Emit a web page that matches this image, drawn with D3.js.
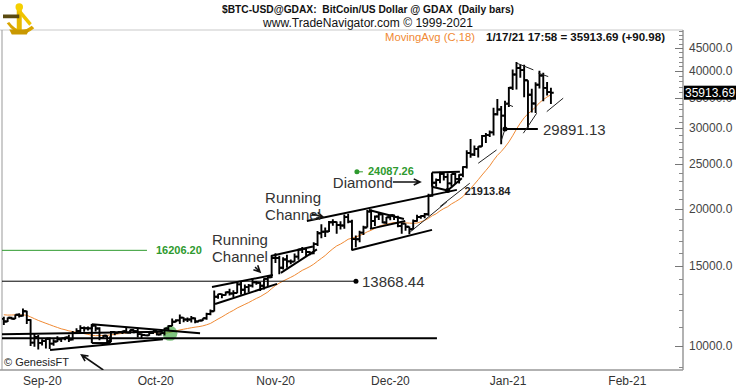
<!DOCTYPE html>
<html>
<head>
<meta charset="utf-8">
<script src="https://cdnjs.cloudflare.com/ajax/libs/d3/7.8.5/d3.min.js"></script>
<style>
body { margin: 0; background: #fff; }
text { font-family: "Liberation Sans", Arial, sans-serif; }
</style>
</head>
<body>
<script>
// daily bars, BTC-USD, starting 27 Aug 2020
var firstDay = new Date(2020, 7, 27);

var opens = [11470, 11320, 11530, 11475, 11710,
  11650, 11920, 11400, 10170, 10470, 10160, 10250, 10370, 10120, 10230, 10340, 10390, 10440, 10330, 10680,
  10790, 10950, 10940, 10930, 11090, 10920, 10420, 10530, 10240, 10740, 10690, 10730, 10770, 10700, 10840,
  10780, 10620, 10570, 10550, 10670, 10790, 10600, 10670, 10920, 11060, 11300, 11380, 11540, 11430, 11430,
  11500, 11320, 11370, 11500, 11750, 11920, 12820, 12990, 12930, 13120, 13030, 13070, 13650, 13280, 13460, 13560,
  13800, 13760, 13550, 14030, 14150, 15590, 15590, 14840, 15480, 15330, 15310, 15700, 16280, 16330, 16070,
  15960, 16720, 17660, 17800, 17820, 18680, 18700, 18420, 18370, 19160, 18730, 17150, 17140, 17720, 18180,
  19700, 18790, 19220, 19440, 18650, 19150, 19360, 19170, 18320, 18550, 18250, 18030, 18800, 19170, 19270,
  19440, 21350, 22800, 23110, 23860, 23480, 22720, 23820, 23240, 23730, 24700, 26490, 26280, 27040, 27370, 28880,
  28990, 29400, 32200, 33000, 31990, 33990, 36820, 39370, 40670, 40240, 38240, 35550, 34000, 37390, 39160, 36800, 36020];

var highs = [11590, 11550, 11590, 11720, 11790,
  12080, 11950, 11450, 10630, 10570, 10350, 10390, 10440, 10350, 10500, 10400, 10480, 10580, 10790, 10940,
  11100, 11040, 11040, 11180, 11100, 10990, 10570, 10550, 10790, 10770, 10780, 10800, 10950, 10860, 10850,
  10920, 10660, 10600, 10700, 10800, 10800, 10690, 10960, 11110, 11490, 11440, 11720, 11560, 11550, 11630,
  11540, 11420, 11500, 11820, 12020, 13230, 13020, 13030, 13160, 13350, 13250, 13780, 13860, 13640, 13680, 14100,
  13890, 13820, 14070, 14260, 15750, 15970, 15770, 15660, 15850, 15480, 15960, 16340, 16480, 16340, 16140,
  16880, 17860, 18490, 18180, 18800, 18960, 18750, 18780, 19420, 19490, 18920, 17470, 17880, 18340, 19860,
  19920, 19320, 19600, 19540, 19170, 19420, 19420, 19290, 18650, 18560, 18280, 18940, 19400, 19350, 19570,
  21560, 23800, 23290, 24087, 24050, 23900, 23830, 23950, 23780, 24790, 26870, 28420, 27500, 27400, 29000, 29300,
  29680, 33300, 34800, 33600, 34500, 36940, 40370, 41950, 41380, 41350, 38260, 36630, 37850, 40100, 39720, 37900, 36800];

var lows = [11120, 11290, 11430, 11460, 11550,
  11610, 11170, 10000, 9960, 9820, 10020, 9880, 9850, 10010, 10200, 10200, 10290, 10200, 10280, 10630,
  10680, 10750, 10820, 10900, 10760, 10300, 10360, 10150, 10200, 10560, 10660, 10620, 10650, 10640, 10660,
  10440, 10370, 10510, 10530, 10630, 10540, 10550, 10540, 10840, 11060, 11280, 11180, 11270, 11290, 11260,
  11220, 11300, 11350, 11420, 11680, 11900, 12700, 12730, 12900, 12900, 12790, 13050, 12950, 12990, 13130, 13430,
  13620, 13200, 13300, 13540, 14100, 15200, 14370, 14710, 14840, 15100, 15290, 15460, 15990, 15720, 15800,
  15880, 16560, 17230, 17340, 17770, 18350, 17620, 18000, 18080, 18570, 16200, 16460, 16880, 17520, 18180,
  18100, 18330, 18900, 18580, 18500, 18870, 18900, 18200, 17620, 17900, 17570, 18000, 18730, 19000, 19050,
  19300, 21250, 22350, 22750, 23060, 21913.84, 22400, 22650, 22700, 23450, 24500, 25850, 26100, 25880, 27320, 27850,
  28700, 28950, 32000, 27700, 29891.13, 33400, 36400, 36500, 38720, 35110, 30100, 32500, 32400, 36700, 34400, 35400, 33900];

var closes = [11320, 11530, 11475, 11710, 11650,
  11920, 11400, 10170, 10470, 10160, 10250, 10370, 10120, 10230, 10340, 10390, 10440, 10330, 10680, 10790,
  10950, 10940, 10930, 11090, 10920, 10420, 10530, 10240, 10740, 10690, 10730, 10770, 10700, 10840, 10780,
  10620, 10570, 10550, 10670, 10790, 10600, 10670, 10920, 11060, 11300, 11380, 11540, 11430, 11430, 11500,
  11320, 11370, 11500, 11750, 11920, 12820, 12990, 12930, 13120, 13030, 13070, 13650, 13280, 13460, 13560, 13800,
  13760, 13550, 14030, 14150, 15590, 15590, 14840, 15480, 15330, 15310, 15700, 16280, 16330, 16070, 15960,
  16720, 17660, 17800, 17820, 18680, 18700, 18420, 18370, 19160, 18730, 17150, 17140, 17720, 18180, 19700,
  18790, 19220, 19440, 18650, 19150, 19360, 19170, 18320, 18550, 18250, 18030, 18800, 19170, 19270, 19440,
  21350, 22800, 23110, 23860, 23480, 22720, 23820, 23240, 23730, 24700, 26490, 26280, 27040, 27370, 28880, 28990,
  29400, 32200, 33000, 31990, 33990, 36820, 39370, 40670, 40240, 38240, 35550, 34000, 37390, 39160, 36800, 36020, 35913.69];

// MovingAvg (C,18)
var movingAvg = [11708, 11689, 11693, 11701, 11694,
  11702, 11676, 11580, 11478, 11379, 11295, 11213, 11135, 11054, 10981, 10906, 10856, 10793, 10758, 10716,
  10687, 10644, 10604, 10558, 10532, 10546, 10549, 10553, 10581, 10598, 10632, 10662, 10682, 10707, 10726,
  10742, 10736, 10723, 10707, 10699, 10681, 10657, 10657, 10693, 10736, 10799, 10843, 10884, 10923, 10964,
  10998, 11028, 11068, 11131, 11206, 11332, 11461, 11579, 11719, 11851, 11970, 12114, 12224, 12339, 12452, 12583,
  12713, 12827, 12977, 13132, 13359, 13572, 13734, 13882, 14012, 14144, 14288, 14468, 14649, 14784, 14933,
  15114, 15342, 15564, 15789, 16074, 16334, 16571, 16726, 16924, 17140, 17233, 17333, 17467, 17605, 17795,
  17932, 18107, 18300, 18407, 18490, 18577, 18652, 18632, 18623, 18614, 18595, 18575, 18599, 18717, 18845,
  19047, 19303, 19493, 19774, 20011, 20193, 20481, 20708, 20951, 21258, 21712, 22141, 22629, 23148, 23708, 24254,
  24817, 25526, 26173, 26683, 27288, 28008, 28891, 29888, 30800, 31633, 32290, 32807, 33412, 34128, 34670, 35151, 35541];

var yTickValues = [10000, 15000, 20000, 25000, 30000, 35000, 40000, 45000];
var monthStarts = [new Date(2020, 8, 1), new Date(2020, 9, 1), new Date(2020, 10, 1),
  new Date(2020, 11, 1), new Date(2021, 0, 1), new Date(2021, 1, 1)];
var monthLabels = ["Sep-20", "Oct-20", "Nov-20", "Dec-20", "Jan-21", "Feb-21"];

// drawn studies, as [bar index, price]
var thickLines = [
  [[-1, 10400], [113.2, 10400]],
  [[-1, 10610], [41.6, 10750]],
  [[23.0, 11160], [51.3, 10660]],
  [[12.1, 9800], [41.6, 10345]],
  [[23.0, 11160], [23.0, 10150]],
  [[23.0, 10150], [27.8, 10150]],
  [[27.8, 10150], [27.8, 10500]],
  [[54.4, 13470], [70.35, 14310]],
  [[55.2, 12360], [71.4, 13680]],
  [[69.8, 15750], [80.8, 16530]],
  [[72.4, 14460], [81.85, 16280]],
  [[79.2, 18800], [118.4, 21990]],
  [[91.0, 16240], [111.9, 17970]],
  [[95.4, 19870], [104.6, 18980]],
  [[95.7, 18060], [104.9, 18800]],
  [[111.9, 24000], [119.2, 24087]],
  [[111.9, 24000], [111.9, 22350]],
  [[111.9, 22350], [116, 21913.84]],
  [[116, 21913.84], [119.7, 23310]],
  [[131, 29891.13], [139.6, 29891.13]]
];
var thinLines = [
  [[106.2, 17780], [115.8, 20690]],
  [[114.0, 20210], [121.8, 22740]],
  [[124.0, 25150], [128.8, 26900]],
  [[130.1, 28290], [131.0, 29891]],
  [[131.0, 34060], [133.1, 33480]],
  [[135.8, 29270], [139.3, 32380]],
  [[141.9, 32640], [146.2, 34930]],
  [[134.05, 41690], [138.4, 40300]],
  [[139.7, 39630], [142.3, 38960]]
];
var arrows = [
  [[26.0, 8859], [20.35, 9556]],
  [[65.65, 14900], [66.96, 14530]],
  [[80.5, 19480], [83.4, 19180]],
  [[101.7, 22890], [108.8, 22890]]
];
var levels = [
  { from: -1, to: 37.4, price: 16206.20, text: "16206.20", color: "#2e9a2e", bold: true, size: 11, dot: false },
  { from: -1, to: 92.05, price: 13868.44, text: "13868.44", color: "#000", bold: false, size: 15, dot: true }
];
var notes = [
  { i: 54.4, price: 16650, lines: ["Running", "Channel"] },
  { i: 68.3, price: 20620, lines: ["Running", "Channel"] },
  { i: 86.0, price: 22150, lines: ["Diamond"] }
];
var dotLabels = [
  { i: 92.3, price: 24087.26, text: "24087.26", color: "#2e9a2e", bold: true, size: 11, dx: 11, dy: 3.5 },
  { i: 116, price: 21913.84, text: "21913.84", color: "#222", bold: true, size: 11, dx: 17, dy: 4 },
  { i: 131, price: 29891.13, text: "29891.13", color: "#333", bold: false, size: 15, dx: 38, dy: 6 }
];
var circleMark = { i: 43.4, price: 10660 };
var lastPrice = 35913.69;

var W = 736, H = 389;
var plotL = 2, plotR = 683, plotT = 30, plotB = 370;

var svg = d3.select("body").append("svg")
  .attr("width", W).attr("height", H);

var x = d3.scaleTime()
  .domain([new Date(2020, 7, 26), new Date(2021, 1, 20)])
  .range([0, 681]);
var y = d3.scaleLog()
  .domain([10000, 45000])
  .range([346, 48]);

function dayX(i) { return x(d3.timeHour.offset(firstDay, Math.round(i * 24))); }

svg.append("defs").append("clipPath").attr("id", "plot")
  .append("rect").attr("x", plotL).attr("y", plotT)
  .attr("width", plotR - plotL).attr("height", plotB - plotT);

// header
svg.append("line").attr("x1", 0).attr("x2", plotR).attr("y1", plotT).attr("y2", plotT)
  .attr("stroke", "#e4e4e4").attr("stroke-width", 2);
svg.append("text").attr("x", 222).attr("y", 12.5)
  .attr("textLength", 292).attr("lengthAdjust", "spacingAndGlyphs")
  .style("font-size", "11px").style("font-weight", "bold").style("white-space", "pre").attr("fill", "#111")
  .text("$BTC-USD@GDAX:  BitCoin/US Dollar @ GDAX  (Daily bars)");
svg.append("text").attr("x", 263).attr("y", 27)
  .attr("textLength", 210).attr("lengthAdjust", "spacingAndGlyphs")
  .style("font-size", "12px").attr("fill", "#111")
  .text("www.TradeNavigator.com \u00a9 1999-2021");
svg.append("text").attr("x", 385).attr("y", 40.5)
  .attr("textLength", 90).attr("lengthAdjust", "spacingAndGlyphs")
  .style("font-size", "11.5px").attr("fill", "#f08a34")
  .text("MovingAvg (C,18)");
svg.append("text").attr("x", 486).attr("y", 40.5)
  .attr("textLength", 179).attr("lengthAdjust", "spacingAndGlyphs")
  .style("font-size", "11px").style("font-weight", "bold").attr("fill", "#111")
  .text("1/17/21 17:58 = 35913.69 (+90.98)");

// logo
var logo = svg.append("g").attr("transform", "translate(3,2) scale(1.25)");
logo.append("path").attr("d", "M3,17 Q13,31 25,21 L23,19 Q13,27 5,16 Z").attr("fill", "#d9a400");
logo.append("path").attr("d", "M11,2 L15,2 L15,23 L11,23 Z").attr("fill", "#e6b800");
logo.append("path").attr("d", "M0,10 L13,10 L13,13 L0,13 Z").attr("fill", "#5a4a10");
logo.append("path").attr("d", "M13,5 L23,17 L21,19 L11,7 Z").attr("fill", "#f0c400");
logo.append("circle").attr("cx", 13).attr("cy", 4).attr("r", 3).attr("fill", "#f5d000");
logo.append("path").attr("d", "M5,22 L21,22 L19,26 L7,26 Z").attr("fill", "#c99800");

// frame
svg.append("line").attr("x1", plotL).attr("x2", plotL).attr("y1", plotT).attr("y2", plotB)
  .attr("stroke", "#999");
svg.append("line").attr("x1", 0).attr("x2", plotR).attr("y1", plotB).attr("y2", plotB)
  .attr("stroke", "#999").attr("stroke-width", 1.5);
svg.append("line").attr("x1", plotR).attr("x2", plotR).attr("y1", plotT).attr("y2", plotB)
  .attr("stroke", "#999").attr("stroke-width", 1.5);

// y axis ticks on the right edge
var minorTicks = d3.range(9000, 49001, 1000).filter(function (v) { return yTickValues.indexOf(v) < 0; });
svg.append("g").selectAll("line").data(minorTicks).enter().append("line")
  .attr("x1", plotR - 4).attr("x2", plotR).attr("y1", function (d) { return Math.round(y(d)) + 0.5; })
  .attr("y2", function (d) { return Math.round(y(d)) + 0.5; })
  .attr("stroke", "#888");
var ya = svg.append("g");
ya.selectAll("line").data(yTickValues).enter().append("line")
  .attr("x1", plotR - 8).attr("x2", plotR).attr("y1", function (d) { return Math.round(y(d)) + 0.5; })
  .attr("y2", function (d) { return Math.round(y(d)) + 0.5; })
  .attr("stroke", "#777");
ya.selectAll("text").data(yTickValues).enter().append("text")
  .attr("x", 689).attr("y", function (d) { return y(d) + 4; })
  .style("font-size", "12px").attr("fill", "#444")
  .text(function (d) { return d3.format(".1f")(d); });

// x labels
svg.append("g").selectAll("text").data(monthStarts).enter().append("text")
  .attr("x", function (d) { return x(d); }).attr("y", 385)
  .style("font-size", "12px").attr("fill", "#333")
  .text(function (d, i) { return monthLabels[i]; });

var plot = svg.append("g").attr("clip-path", "url(#plot)");

// moving average
var ma = d3.line()
  .x(function (d, i) { return dayX(i); })
  .y(function (d) { return y(d); });
plot.append("path").datum(movingAvg).attr("d", ma)
  .attr("fill", "none").attr("stroke", "#f08a34").attr("stroke-width", 1);

// green circle marker
plot.append("circle").attr("cx", dayX(circleMark.i)).attr("cy", y(circleMark.price)).attr("r", 7.5)
  .attr("fill", "#3aa53a").attr("fill-opacity", 0.65);

// OHLC bars
var bars = d3.range(closes.length).map(function (i) {
  return { i: i, o: opens[i], h: highs[i], l: lows[i], c: closes[i] };
});
plot.selectAll(".bar").data(bars).enter().append("path")
  .attr("class", "bar")
  .attr("d", function (d) {
    var cx = dayX(d.i);
    return "M" + cx + "," + y(d.h) + "V" + y(d.l) +
      "M" + (cx - 2.8) + "," + y(d.o) + "H" + cx +
      "M" + cx + "," + y(d.c) + "H" + (cx + 2.8);
  })
  .attr("fill", "none").attr("stroke", "#000").attr("stroke-width", 1.9);

// drawing tools
function seg(s) {
  return "M" + dayX(s[0][0]) + "," + y(s[0][1]) + "L" + dayX(s[1][0]) + "," + y(s[1][1]);
}
plot.selectAll(".tl").data(thickLines).enter().append("path")
  .attr("d", seg).attr("stroke", "#000").attr("stroke-width", 2).attr("fill", "none");
plot.selectAll(".thin").data(thinLines).enter().append("path")
  .attr("d", seg).attr("stroke", "#222").attr("stroke-width", 1).attr("fill", "none");

plot.selectAll(".arr").data(arrows).enter().append("path")
  .attr("d", function (s) {
    var x1 = dayX(s[0][0]), y1 = y(s[0][1]), x2 = dayX(s[1][0]), y2 = y(s[1][1]);
    var a = Math.atan2(y2 - y1, x2 - x1), L = 7;
    var p1 = [x2 - L * Math.cos(a - 0.45), y2 - L * Math.sin(a - 0.45)];
    var p2 = [x2 - L * Math.cos(a + 0.45), y2 - L * Math.sin(a + 0.45)];
    return "M" + x1 + "," + y1 + "L" + x2 + "," + y2 +
      "M" + p1 + "L" + x2 + "," + y2 + "L" + p2;
  })
  .attr("stroke", "#111").attr("stroke-width", 1.6).attr("fill", "none");

levels.forEach(function (lv) {
  var yy = y(lv.price);
  plot.append("line").attr("x1", dayX(lv.from)).attr("x2", dayX(lv.to))
    .attr("y1", yy).attr("y2", yy).attr("stroke", lv.color).attr("stroke-width", 1);
  if (lv.dot) plot.append("circle").attr("cx", dayX(lv.to)).attr("cy", yy).attr("r", 2.5).attr("fill", "#000");
  plot.append("text").attr("x", dayX(lv.to) + (lv.dot ? 6 : 9)).attr("y", yy + (lv.dot ? 5.5 : 4))
    .style("font-size", lv.size + "px").style("font-weight", lv.bold ? "bold" : "normal")
    .attr("fill", lv.dot ? "#333" : lv.color).text(lv.text);
});

dotLabels.forEach(function (d) {
  var cx = dayX(d.i), cy = y(d.price);
  plot.append("circle").attr("cx", cx).attr("cy", cy).attr("r", 2.5).attr("fill", d.color === "#2e9a2e" ? d.color : "#000");
  if (d.color === "#2e9a2e") plot.append("line").attr("x1", cx).attr("x2", cx + 6).attr("y1", cy).attr("y2", cy)
    .attr("stroke", d.color);
  plot.append("text").attr("x", cx + d.dx).attr("y", cy + d.dy)
    .style("font-size", d.size + "px").style("font-weight", d.bold ? "bold" : "normal")
    .attr("fill", d.color).text(d.text);
});

notes.forEach(function (n) {
  var t = plot.append("text").attr("x", dayX(n.i)).attr("y", y(n.price))
    .style("font-size", "15px").attr("fill", "#333");
  n.lines.forEach(function (ln, k) {
    t.append("tspan").attr("x", dayX(n.i)).attr("dy", k === 0 ? 0 : 17).text(ln);
  });
});

// copyright
svg.append("text").attr("x", 4).attr("y", 366).style("font-size", "11px").attr("fill", "#222")
  .text("\u00a9 GenesisFT");

// last price box, drawn over the 35000.0 label as in the source
var lp = y(lastPrice);
svg.append("rect").attr("x", 684).attr("y", lp - 7).attr("width", 52).attr("height", 14).attr("fill", "#000");
svg.append("text").attr("x", 685).attr("y", lp + 4.5).style("font-size", "12px").attr("fill", "#fff")
  .text(d3.format(".2f")(lastPrice));
</script>
</body>
</html>
